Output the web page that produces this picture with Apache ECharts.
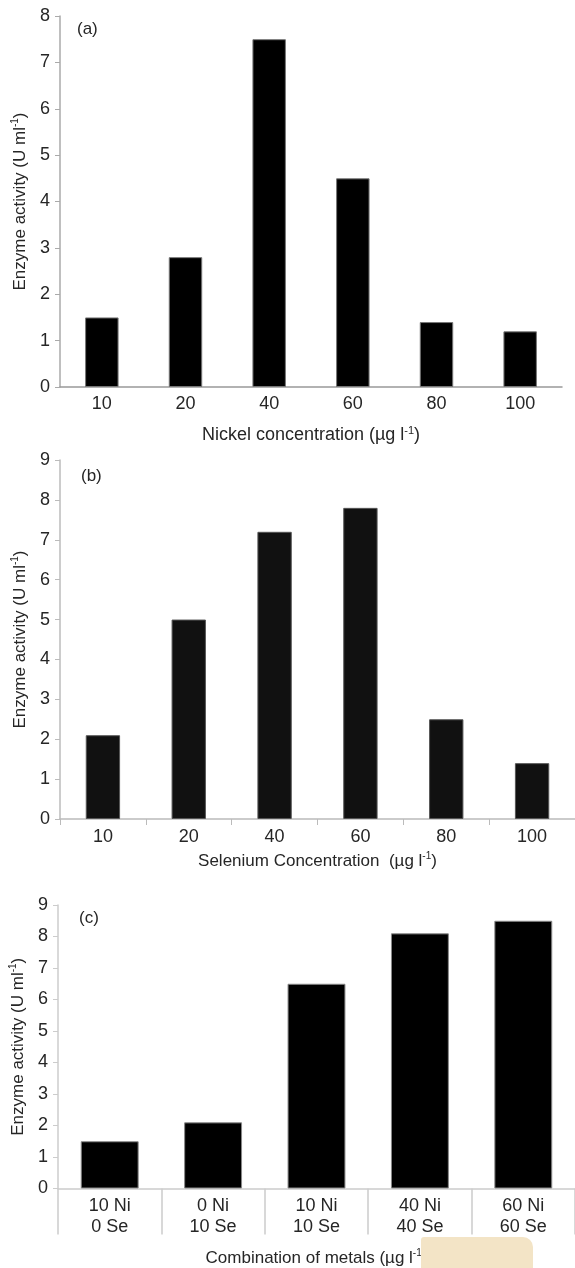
<!DOCTYPE html>
<html>
<head>
<meta charset="utf-8">
<script src="https://cdn.jsdelivr.net/npm/echarts@6/dist/echarts.min.js"></script>
<style>
  html, body { margin: 0; padding: 0; background: #fff; }
  #main { width: 575px; height: 1268px; }
</style>
</head>
<body>
<div id="main"></div>
<script>
// panel (a) nickel
var nickelConc = ['10', '20', '40', '60', '80', '100'];
var nickelActivity = [1.5, 2.8, 7.5, 4.5, 1.4, 1.2];
// panel (b) selenium
var seleniumConc = ['10', '20', '40', '60', '80', '100'];
var seleniumActivity = [2.1, 5.0, 7.2, 7.8, 2.5, 1.4];
// panel (c) combination
var metalCombos = ['10 Ni\n0 Se', '0 Ni\n10 Se', '10 Ni\n10 Se', '40 Ni\n40 Se', '60 Ni\n60 Se'];
var comboActivity = [1.5, 2.1, 6.5, 8.1, 8.5];

var FONT = "'Liberation Sans Narrow', 'Arial Narrow', 'Liberation Sans', Arial, sans-serif";
var TXT = '#262626';

function supRich(size) {
  return {
    t: { fontSize: size, fontFamily: FONT, color: TXT, lineHeight: size + 3 },
    s: { fontSize: Math.round(size * 0.6), fontFamily: FONT, color: TXT, verticalAlign: 'top', lineHeight: size + 3 }
  };
}

var yName = '{t|Enzyme activity (U ml}{s|-1}{t|)}';

function yAxisFor(idx, max, lineColor) {
  return {
    gridIndex: idx,
    type: 'value',
    min: 0,
    max: max,
    interval: 1,
    name: yName,
    nameLocation: 'middle',
    nameRotate: 90,
    nameGap: 30,
    nameTextStyle: { rich: supRich(17) },
    splitLine: { show: false },
    axisLine: { show: true, lineStyle: { color: lineColor, width: 1.5 } },
    axisTick: { show: true, length: 5, lineStyle: { color: lineColor } },
    axisLabel: { margin: 10, fontSize: 18, fontFamily: FONT, color: TXT }
  };
}

var chart = echarts.init(document.getElementById('main'), null, { renderer: 'canvas' });

var option = {
  backgroundColor: '#fff',
  animation: false,
  title: [
    { text: '(a)', left: 72, top: 16, textStyle: { fontSize: 17, fontWeight: 'normal', fontFamily: FONT, color: TXT } },
    { text: '(b)', left: 76, top: 463, textStyle: { fontSize: 17, fontWeight: 'normal', fontFamily: FONT, color: TXT } },
    { text: '(c)', left: 74, top: 905, textStyle: { fontSize: 17, fontWeight: 'normal', fontFamily: FONT, color: TXT } }
  ],
  grid: [
    { left: 60, top: 16, width: 502, height: 371 },
    { left: 60, top: 460, width: 515, height: 359 },
    { left: 58, top: 905, width: 517, height: 284 }
  ],
  xAxis: [
    {
      gridIndex: 0,
      type: 'category',
      data: nickelConc,
      name: '{t|Nickel concentration (µg l}{s|-1}{t|)}',
      nameLocation: 'middle',
      nameGap: 38,
      nameTextStyle: { rich: supRich(18) },
      axisLine: { lineStyle: { color: '#999', width: 1.5 } },
      axisTick: { show: false },
      axisLabel: { margin: 8, fontSize: 18, fontFamily: FONT, color: TXT }
    },
    {
      gridIndex: 1,
      type: 'category',
      data: seleniumConc,
      name: '{t|Selenium Concentration  (µg l}{s|-1}{t|)}',
      nameLocation: 'middle',
      nameGap: 32,
      nameTextStyle: { rich: supRich(17) },
      axisLine: { lineStyle: { color: '#bbb', width: 1.5 } },
      axisTick: { show: true, length: 6, lineStyle: { color: '#bbb' } },
      axisLabel: { margin: 9, fontSize: 18, fontFamily: FONT, color: TXT }
    },
    {
      gridIndex: 2,
      type: 'category',
      data: metalCombos,
      name: '{t|Combination of metals (µg l}{s|-1}{t|)}',
      nameLocation: 'middle',
      nameGap: 60,
      nameTextStyle: { rich: supRich(17) },
      axisLine: { lineStyle: { color: '#ccc', width: 1.5 } },
      axisTick: { show: true, length: 46, lineStyle: { color: '#ccc', width: 1.5 } },
      axisLabel: { margin: 7, fontSize: 18, lineHeight: 21, fontFamily: FONT, color: TXT }
    }
  ],
  yAxis: [
    yAxisFor(0, 8, '#aaa'),
    yAxisFor(1, 9, '#bbb'),
    yAxisFor(2, 9, '#ccc')
  ],
  series: [
    {
      type: 'bar',
      xAxisIndex: 0,
      yAxisIndex: 0,
      barWidth: '40%',
      itemStyle: { color: '#000', borderColor: '#777', borderWidth: 1 },
      data: nickelActivity
    },
    {
      type: 'bar',
      xAxisIndex: 1,
      yAxisIndex: 1,
      barWidth: '40%',
      itemStyle: { color: '#111', borderColor: '#555', borderWidth: 1 },
      data: seleniumActivity
    },
    {
      type: 'bar',
      xAxisIndex: 2,
      yAxisIndex: 2,
      barWidth: '56%',
      itemStyle: { color: '#000', borderColor: '#888', borderWidth: 1 },
      data: comboActivity
    }
  ],
  graphic: [
    // beige patch over the bottom right of panel (c)
    {
      type: 'rect',
      z: 100,
      shape: { x: 421, y: 1237, width: 112, height: 31, r: [3, 10, 0, 0] },
      style: { fill: '#f3e4c6' }
    }
  ]
};

chart.setOption(option);
</script>
</body>
</html>
